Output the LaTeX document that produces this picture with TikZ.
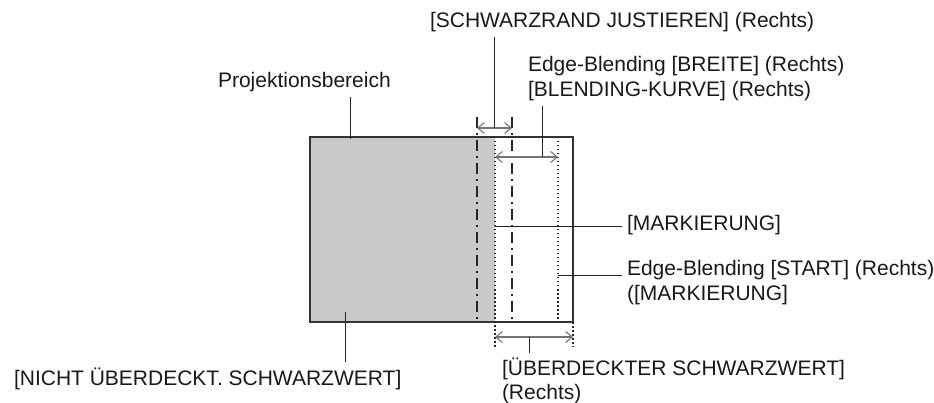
\documentclass[tikz,border=0pt]{standalone}
\usepackage{fontspec}
\setmainfont{Liberation Sans}
\usetikzlibrary{arrows.meta,positioning,calc}
\definecolor{blendgray}{RGB}{200,201,203}

\begin{document}
\begin{tikzpicture}[x=1pt, y=-1pt,
  lbl/.style={inner sep=0pt, outer sep=5pt, align=left, font=\fontsize{21}{25}\selectfont, text=black!90},
  rim/.style={draw=black!80, line width=1.5pt},
  dashdotline/.style={draw=black!85, line width=1.5pt, dash pattern=on 11pt off 5pt on 2pt off 5pt},
  dotline/.style={draw=black!85, line width=1.4pt, dash pattern=on 1.5pt off 2.5pt},
  leader/.style={draw=black!85, line width=1pt},
  dimarr/.style={{Straight Barb[length=6.5pt,width=11pt]}-{Straight Barb[length=6.5pt,width=11pt]}, line width=1.1pt, draw=black!55}]
  \useasboundingbox (0,0) rectangle (934,403);
  % Projection area: shaded part not overlapped, white blend zone on the right
  \fill[blendgray] (310,137) rectangle (495,322);
  \draw[rim] (310,137) rectangle (573,322);
  % Black border adjustment limits (dash-dot)
  \draw[dashdotline] (477,117) -- (477,322);
  \draw[dashdotline] (512,117) -- (512,322);
  % Marker and blending start (dotted)
  \draw[dotline] (495,137) -- (495,347);
  \draw[dotline] (558,137) -- (558,322);
  \draw[dotline] (573,322) -- (573,347);
  % Dimension arrows
  \coordinate (randL) at (477,128);
  \coordinate (randR) at (512,128);
  \coordinate (randM) at (494,128);
  \draw[dimarr] (randL) -- (randR);
  \coordinate (breiteL) at (495,157);
  \coordinate (breiteR) at (558,157);
  \coordinate (breiteM) at (542,157);
  \draw[dimarr] (breiteL) -- (breiteR);
  \coordinate (ueberL) at (495,337);
  \coordinate (ueberR) at (573,337);
  \coordinate (ueberM) at (529,337);
  \draw[dimarr] (ueberL) -- (ueberR);
  % Labels
  \node[lbl, anchor=base west] (rand) at (425,28) {[SCHWARZRAND JUSTIEREN] (Rechts)};
  \node[lbl, anchor=north west] (breite) at (523,51) {Edge-Blending [BREITE] (Rechts)\\{}[BLENDING-KURVE] (Rechts)};
  \node[lbl, anchor=base west] (proj) at (213,88) {Projektionsbereich};
  \node[lbl, anchor=base west] (mark) at (622,231) {[MARKIERUNG]};
  \node[lbl, anchor=north west] (start) at (622,255) {Edge-Blending [START] (Rechts)\\([MARKIERUNG]};
  \node[lbl, anchor=base west] (nicht) at (9,385) {[NICHT ÜBERDECKT. SCHWARZWERT]};
  \node[lbl, anchor=north west, font=\fontsize{21}{24}\selectfont] (ueber) at (497,353) {[ÜBERDECKTER SCHWARZWERT]\\(Rechts)};
  % Leader lines
  \coordinate (projIn) at (350,139);
  \coordinate (nichtIn) at (345,312);
  \coordinate (markIn) at (495,227);
  \coordinate (startIn) at (558,276);
  \draw[leader] (randM) -- (randM |- rand.south);
  \draw[leader] (breiteM) -- (breiteM |- breite.south);
  \draw[leader] (projIn) -- (projIn |- proj.south);
  \draw[leader] (nichtIn) -- (nichtIn |- nicht.north);
  \draw[leader] (ueberM) -- (ueberM |- ueber.north);
  \draw[leader] (markIn) -- (mark.west |- markIn);
  \draw[leader] (startIn) -- (start.west |- startIn);
\end{tikzpicture}
\end{document}
